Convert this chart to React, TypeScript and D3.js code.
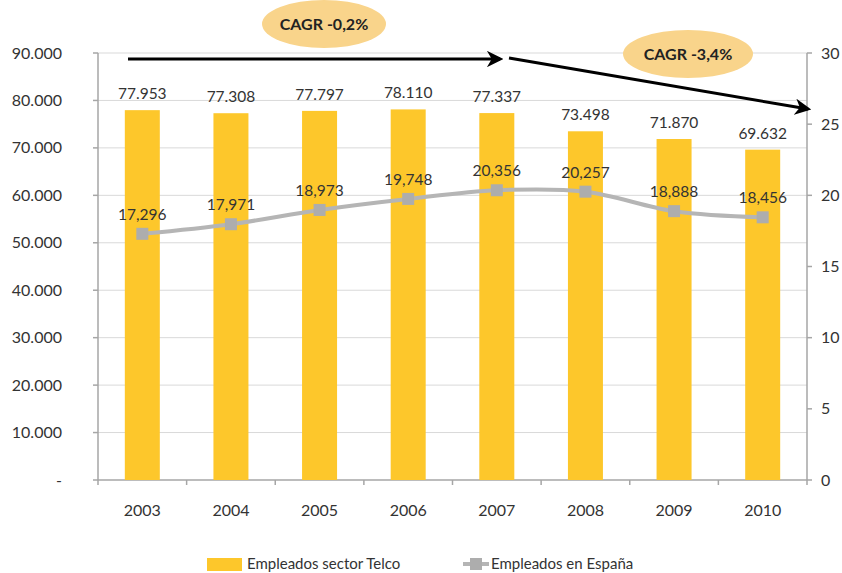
import React from "react";
import * as d3 from "d3";

const years = ["2003", "2004", "2005", "2006", "2007", "2008", "2009", "2010"];
const telco = [77953, 77308, 77797, 78110, 77337, 73498, 71870, 69632];
const espana = [17.296, 17.971, 18.973, 19.748, 20.356, 20.257, 18.888, 18.456];
const leftTicks = [0, 10000, 20000, 30000, 40000, 50000, 60000, 70000, 80000, 90000];
const rightTicks = [0, 5, 10, 15, 20, 25, 30];
const seriesNames = ["Empleados sector Telco", "Empleados en España"];
const cagrLabels = ["CAGR -0,2%", "CAGR -3,4%"];

const W = 842, H = 573;
const L = 98, R = 807, T = 53, B = 480;
const FONT = "Lato, 'Open Sans', sans-serif";
const TXT = "#333";
const BAR = "#FDC72B";
const LINE = "#b5b5b5";

const loc = d3.formatLocale({ decimal: ",", thousands: ".", grouping: [3], currency: ["", "€"] });
const fmtInt = loc.format(",.0f");
const fmtDec = loc.format(".3f");

export default function App() {
  const xb = d3.scaleBand().domain(years).range([L, R]);
  const yL = d3.scaleLinear().domain([0, 90000]).range([B, T]);
  const yR = d3.scaleLinear().domain([0, 30]).range([B, T]);
  const cx = (y: string) => (xb(y) as number) + xb.bandwidth() / 2;
  const line = d3
    .line<number>()
    .x((_, i) => cx(years[i]))
    .y((d) => yR(d))
    .curve(d3.curveCatmullRom.alpha(0.5));

  const bw = 35;

  return (
    <svg width={W} height={H} style={{ position: "absolute", left: 0, top: 0, background: "#fff" }} fontFamily={FONT}>
      <defs>
        <marker id="ah" viewBox="0 0 10 10" refX="8" refY="5" markerWidth="5.5" markerHeight="5.5" orient="auto" markerUnits="strokeWidth">
          <path d="M0,0 L10,5 L0,10 L3,5 z" fill="#000" />
        </marker>
      </defs>
      {leftTicks.filter((t) => t > 0).map((t) => (
        <line key={t} x1={L} x2={R} y1={yL(t)} y2={yL(t)} stroke="#d9d9d9" strokeWidth={1} />
      ))}
      <line x1={L} x2={L} y1={T} y2={B} stroke="#a6a6a6" strokeWidth={1.5} />
      {leftTicks.map((t) => (
        <g key={t}>
          <line x1={L - 5} x2={L} y1={yL(t)} y2={yL(t)} stroke="#a6a6a6" strokeWidth={1.5} />
          <text x={62} y={yL(t) + 5.5} textAnchor="end" fontSize={16} fill={TXT}>
            {t === 0 ? "-" : fmtInt(t)}
          </text>
        </g>
      ))}
      <line x1={R} x2={R} y1={T} y2={B} stroke="#a6a6a6" strokeWidth={1.5} />
      {rightTicks.map((t) => (
        <g key={t}>
          <line x1={R} x2={R + 5} y1={yR(t)} y2={yR(t)} stroke="#a6a6a6" strokeWidth={1.5} />
          <text x={821} y={yR(t) + 5.5} textAnchor="start" fontSize={16} fill={TXT}>
            {t}
          </text>
        </g>
      ))}
      <line x1={L} x2={R} y1={B} y2={B} stroke="#a6a6a6" strokeWidth={1.5} />
      {years.map((y) => (
        <line key={y} x1={xb(y)} x2={xb(y)} y1={B} y2={B + 5} stroke="#a6a6a6" strokeWidth={1.5} />
      ))}
      <line x1={R} x2={R} y1={B} y2={B + 5} stroke="#a6a6a6" strokeWidth={1.5} />
      {years.map((y) => (
        <text key={y} x={cx(y)} y={516} textAnchor="middle" fontSize={16} fill={TXT}>
          {y}
        </text>
      ))}
      {telco.map((v, i) => (
        <g key={i}>
          <rect x={cx(years[i]) - bw / 2} y={yL(v)} width={bw} height={B - yL(v)} fill={BAR} />
          <text x={cx(years[i])} y={yL(v) - 11} textAnchor="middle" fontSize={15.5} fill={TXT}>
            {fmtInt(v)}
          </text>
        </g>
      ))}
      <path d={line(espana) || ""} fill="none" stroke={LINE} strokeWidth={4} />
      {espana.map((v, i) => (
        <g key={i}>
          <rect x={cx(years[i]) - 6} y={yR(v) - 6} width={12} height={12} fill="#adadad" />
          <text x={cx(years[i])} y={yR(v) - 14} textAnchor="middle" fontSize={15.5} fill={TXT}>
            {fmtDec(v)}
          </text>
        </g>
      ))}
      <line x1={128} y1={59} x2={500} y2={59} stroke="#000" strokeWidth={3} markerEnd="url(#ah)" />
      <line x1={509} y1={58} x2={808} y2={109} stroke="#000" strokeWidth={3} markerEnd="url(#ah)" />
      <ellipse cx={324} cy={24} rx={62} ry={24} fill="#F9D48B" />
      <text x={324} y={30} textAnchor="middle" fontSize={16} fontWeight="bold" fill="#222">
        {cagrLabels[0]}
      </text>
      <ellipse cx={688} cy={54} rx={65} ry={24} fill="#F9D48B" />
      <text x={688} y={60} textAnchor="middle" fontSize={16} fontWeight="bold" fill="#222">
        {cagrLabels[1]}
      </text>
      <rect x={207} y={558} width={35} height={13} fill={BAR} />
      <text x={247} y={569} fontSize={15} fill={TXT}>
        {seriesNames[0]}
      </text>
      <line x1={463} x2={489} y1={564} y2={564} stroke={LINE} strokeWidth={4} />
      <rect x={470} y={558} width={12} height={12} fill="#adadad" />
      <text x={491} y={569} fontSize={15} fill={TXT}>
        {seriesNames[1]}
      </text>
    </svg>
  );
}
